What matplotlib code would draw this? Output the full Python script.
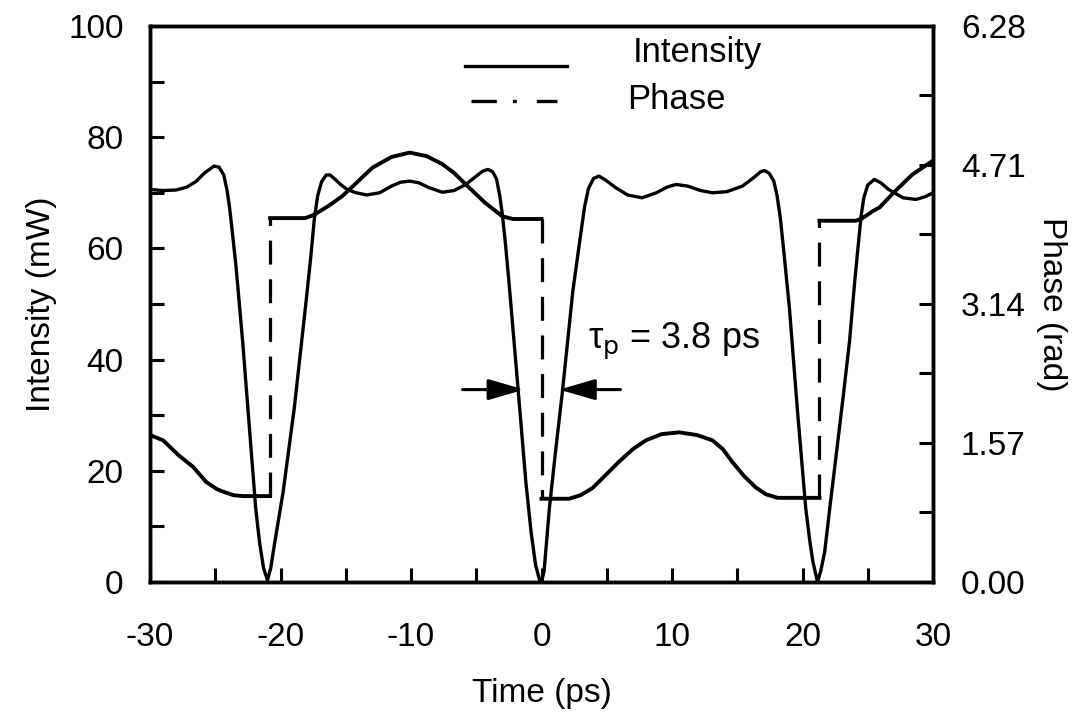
import numpy as np
import matplotlib
matplotlib.use("Agg")
import matplotlib.pyplot as plt
from matplotlib.ticker import MultipleLocator, FixedLocator

plt.rcParams['font.family'] = ['Liberation Sans', 'DejaVu Sans']
plt.rcParams['axes.unicode_minus'] = False

# intensity (mW)
time_int = [-30.0, -29.0, -28.0, -27.2, -26.5, -25.8, -25.1, -24.7, -24.35, -24.1,
            -23.9, -23.65, -23.4, -22.9, -22.4, -21.9, -21.6, -21.3, -21.0, -20.75,
            -20.45, -19.8, -18.95, -18.1, -17.7, -17.4, -17.15, -16.85, -16.5, -16.2,
            -15.9, -15.4, -14.9, -14.2, -13.4, -12.4, -11.5, -10.8, -10.1, -9.4,
            -8.6, -7.6, -6.7, -5.8, -5.0, -4.5, -4.1, -3.75, -3.45, -3.2,
            -3.0, -2.75, -2.5, -1.8, -1.2, -0.8, -0.45, -0.15, 0.0, 0.2,
            0.6, 1.1, 1.6, 2.4, 3.0, 3.3, 3.6, 4.0, 4.4, 4.9,
            5.7, 6.6, 7.7, 8.8, 9.6, 10.3, 11.2, 12.2, 13.1, 14.2,
            15.4, 16.3, 16.8, 17.1, 17.45, 17.8, 18.05, 18.3, 18.65, 19.0,
            19.6, 20.25, 20.55, 20.8, 21.15, 21.4, 21.7, 22.1, 22.55, 23.1,
            23.6, 24.0, 24.3, 24.5, 24.7, 25.0, 25.5, 26.0, 26.6, 27.7,
            28.7, 29.4, 30.0]
intensity = [70.6, 70.4, 70.5, 71.0, 72.0, 73.6, 74.8, 74.6, 73.2, 70.5,
             67.3, 62.0, 56.5, 43.2, 28.2, 13.2, 7.0, 2.5, 0.3, 2.5,
             7.0, 16.2, 31.2, 49.2, 58.0, 65.5, 69.5, 72.0, 73.2, 73.2,
             72.6, 71.5, 70.6, 70.0, 69.6, 70.0, 71.2, 71.9, 72.1, 71.8,
             70.9, 70.1, 70.4, 71.5, 73.0, 73.9, 74.2, 73.8, 72.5, 69.5,
             66.1, 60.5, 54.1, 34.8, 18.0, 9.0, 3.0, 0.4, 0.0, 2.0,
             13.2, 24.0, 34.2, 52.3, 62.5, 67.5, 70.8, 72.6, 73.0, 72.3,
             70.9, 69.6, 69.1, 70.0, 71.0, 71.5, 71.2, 70.4, 70.0, 70.2,
             71.2, 72.8, 73.8, 74.0, 73.5, 72.1, 69.5, 65.5, 57.5, 49.2,
             31.2, 13.2, 7.5, 3.6, 0.0, 2.0, 5.4, 13.5, 22.2, 33.0,
             43.2, 54.0, 61.3, 66.0, 69.1, 71.4, 72.4, 71.8, 70.6, 69.1,
             68.8, 69.3, 70.0]

# phase (rad); repeated times mark the jumps
time_ph = [-30.0, -29.0, -27.8, -26.7, -25.7, -24.9, -24.4, -23.6, -22.9, -20.8,
           -20.8, -18.1, -17.4, -16.3, -15.25, -14.1, -12.95, -11.5, -10.1, -8.8,
           -7.6, -6.7, -5.8, -4.3, -3.0, -2.2, 0.0,
           0.0, 2.1, 3.0, 3.9, 5.0, 5.95, 7.0, 8.0, 9.2, 10.55,
           11.9, 13.1, 13.9, 14.6, 15.5, 16.4, 17.2, 18.1, 21.3,
           21.3, 24.1, 24.6, 25.4, 25.9, 27.0, 28.4, 30.0]
phase = [1.66, 1.60, 1.43, 1.30, 1.13, 1.05, 1.02, 0.98, 0.97, 0.97,
         4.11, 4.11, 4.15, 4.25, 4.36, 4.52, 4.68, 4.80, 4.85, 4.81,
         4.72, 4.62, 4.49, 4.28, 4.13, 4.10, 4.10,
         0.94, 0.94, 0.98, 1.06, 1.22, 1.36, 1.50, 1.60, 1.67, 1.69,
         1.66, 1.60, 1.50, 1.36, 1.20, 1.07, 0.99, 0.95, 0.95,
         4.08, 4.08, 4.11, 4.19, 4.23, 4.40, 4.60, 4.76]

phase_ticks = [0.00, 1.57, 3.14, 4.71, 6.28]

fs = 24

fig = plt.figure(figsize=(10.84, 7.16), dpi=100)
ax = fig.add_axes([0.1384, 0.1872, 0.7223, 0.7765])
ax2 = ax.twinx()

ax.plot(time_int, intensity, color='black', lw=2.4, solid_joinstyle='round')

# phase: solid pieces, dashed vertical jumps
tp = np.array(time_ph)
ph = np.array(phase)
jumps = np.where(np.diff(tp) == 0)[0]
start = 0
for j in jumps:
    ax2.plot(tp[start:j + 1], ph[start:j + 1], color='black', lw=2.8,
             solid_joinstyle='round')
    ax2.plot(tp[j:j + 2], ph[j:j + 2], color='black', lw=2.3,
             linestyle=(0, (7.5, 4.6)))
    start = j + 1
ax2.plot(tp[start:], ph[start:], color='black', lw=2.8, solid_joinstyle='round')

ax.set_xlim(-30, 30)
ax.set_ylim(0, 100)
ax2.set_ylim(0, 6.28)

ax.xaxis.set_major_locator(MultipleLocator(10))
ax.xaxis.set_minor_locator(MultipleLocator(5))
ax.yaxis.set_major_locator(MultipleLocator(20))
ax.yaxis.set_minor_locator(MultipleLocator(10))
ax2.yaxis.set_major_locator(FixedLocator(phase_ticks))
ax2.yaxis.set_minor_locator(FixedLocator([0.785, 2.355, 3.925, 5.495]))
ax2.set_yticklabels(['%.2f' % v for v in phase_ticks])

ax.tick_params(which='both', direction='in', length=10, width=2.2, top=False,
               right=False, labelsize=fs)
ax.tick_params(axis='x', pad=29)
ax.tick_params(axis='y', pad=19)
ax2.tick_params(which='both', direction='in', length=10, width=2.2, labelsize=fs,
                pad=20)
for a in (ax, ax2):
    for s in a.spines.values():
        s.set_linewidth(2.5)

ax.set_xlabel('Time (ps)', fontsize=fs, labelpad=18)
ax.set_ylabel('Intensity (mW)', fontsize=fs, labelpad=8)
ax2.set_ylabel('Phase (rad)', fontsize=fs, rotation=270, labelpad=30)

# legend drawn by hand
ax.plot([0.402, 0.533], [0.928, 0.928], transform=ax.transAxes, color='black', lw=2.4)
ax.text(0.617, 0.953, 'Intensity', transform=ax.transAxes, fontsize=25, va='center')
ax.plot([0.410, 0.520], [0.865, 0.865], transform=ax.transAxes, color='black', lw=2.4,
        linestyle=(0, (7.6, 4.8, 1.2, 6.0)))
ax.text(0.609, 0.867, 'Phase', transform=ax.transAxes, fontsize=25, va='center')

# pulse width annotation
ax.text(3.6, 43.2, r'τ$_\mathrm{p}$ = 3.8 ps', fontsize=26, va='center')
arrow = dict(arrowstyle='-|>,head_length=1.1,head_width=0.32', mutation_scale=20,
             lw=2.2, color='black', shrinkA=0, shrinkB=0)
ax.annotate('', xy=(-1.33, 34.6), xytext=(-6.05, 34.6), arrowprops=arrow)
ax.annotate('', xy=(1.36, 34.6), xytext=(6.05, 34.6), arrowprops=arrow)

fig.savefig('out.png', dpi=100)
